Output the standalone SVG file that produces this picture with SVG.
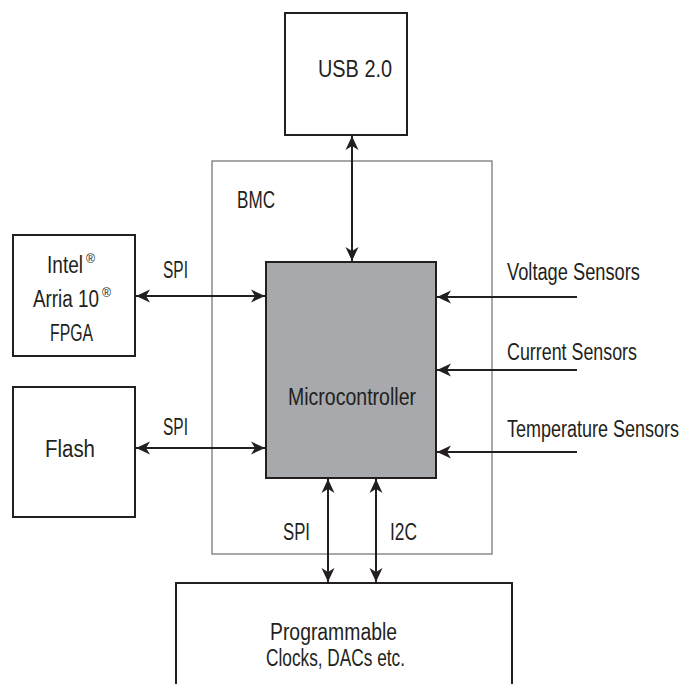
<svg xmlns="http://www.w3.org/2000/svg" width="687" height="684" viewBox="0 0 687 684">
<style>
.box{fill:#fff;stroke:#231f20;stroke-width:2}
.bmc{fill:none;stroke:#6d6e71;stroke-width:1.2}
.mcu{fill:#a7a9ac;stroke:#231f20;stroke-width:2}
.t{font-family:"Liberation Sans",Arial,sans-serif;font-size:23px;fill:#231f20}
.r{font-family:"Liberation Sans",Arial,sans-serif;font-size:12px;fill:#231f20}
.c{stroke:#231f20;stroke-width:2;fill:none}
.a{marker-end:url(#ah)}
.b{marker-start:url(#ah);marker-end:url(#ah)}
</style>
<defs>
<marker id="ah" markerUnits="userSpaceOnUse" markerWidth="16" markerHeight="14" viewBox="0 -7 16 14" refX="14" refY="0" orient="auto-start-reverse">
<path d="M0,-6.5 L14,0 L0,6.5 L4,0 z" fill="#231f20"/>
</marker>
</defs>
<rect width="687" height="684" fill="#fff"/>
<g id="bmc">
<rect class="bmc" x="212" y="161" width="280" height="393"/>
<text class="t" x="237" y="208" textLength="38" lengthAdjust="spacingAndGlyphs">BMC</text>
</g>
<g id="usb">
<rect class="box" x="285" y="13" width="122" height="122"/>
<text class="t" x="318" y="77" textLength="74" lengthAdjust="spacingAndGlyphs">USB 2.0</text>
</g>
<g id="fpga">
<rect class="box" x="13" y="235" width="122" height="121"/>
<text class="t" x="47" y="273" textLength="36" lengthAdjust="spacingAndGlyphs">Intel</text>
<text class="r" x="86" y="263" textLength="9" lengthAdjust="spacingAndGlyphs">®</text>
<text class="t" x="33" y="307" textLength="66" lengthAdjust="spacingAndGlyphs">Arria 10</text>
<text class="r" x="102" y="297" textLength="9" lengthAdjust="spacingAndGlyphs">®</text>
<text class="t" x="50" y="341" textLength="43" lengthAdjust="spacingAndGlyphs">FPGA</text>
</g>
<g id="flash">
<rect class="box" x="13" y="387" width="122" height="130"/>
<text class="t" x="45" y="457" textLength="50" lengthAdjust="spacingAndGlyphs">Flash</text>
</g>
<g id="mcu">
<rect class="mcu" x="266" y="262" width="170" height="216"/>
<text class="t" x="288" y="405" textLength="128" lengthAdjust="spacingAndGlyphs">Microcontroller</text>
</g>
<g id="prog">
<rect class="box" x="176" y="583" width="336" height="110"/>
<text class="t" x="270" y="640" textLength="127" lengthAdjust="spacingAndGlyphs">Programmable</text>
<text class="t" x="266" y="666" textLength="139" lengthAdjust="spacingAndGlyphs">Clocks, DACs etc.</text>
</g>
<g id="sensors">
<text class="t" x="507" y="280" textLength="133" lengthAdjust="spacingAndGlyphs">Voltage Sensors</text>
<text class="t" x="507" y="360" textLength="130" lengthAdjust="spacingAndGlyphs">Current Sensors</text>
<text class="t" x="507" y="437" textLength="172" lengthAdjust="spacingAndGlyphs">Temperature Sensors</text>
</g>
<g id="connectors">
<line class="c b" x1="352" y1="136" x2="352" y2="261"/>
<line class="c b" x1="136" y1="296" x2="265" y2="296"/>
<line class="c b" x1="136" y1="448" x2="265" y2="448"/>
<line class="c b" x1="328" y1="479" x2="328" y2="582"/>
<line class="c b" x1="376" y1="479" x2="376" y2="582"/>
<line class="c a" x1="577" y1="297" x2="437" y2="297"/>
<line class="c a" x1="577" y1="370" x2="437" y2="370"/>
<line class="c a" x1="577" y1="452" x2="437" y2="452"/>
<text class="t" x="163" y="278" textLength="25" lengthAdjust="spacingAndGlyphs">SPI</text>
<text class="t" x="163" y="435" textLength="25" lengthAdjust="spacingAndGlyphs">SPI</text>
<text class="t" x="283" y="540" textLength="27" lengthAdjust="spacingAndGlyphs">SPI</text>
<text class="t" x="390" y="540" textLength="27" lengthAdjust="spacingAndGlyphs">I2C</text>
</g>
</svg>
